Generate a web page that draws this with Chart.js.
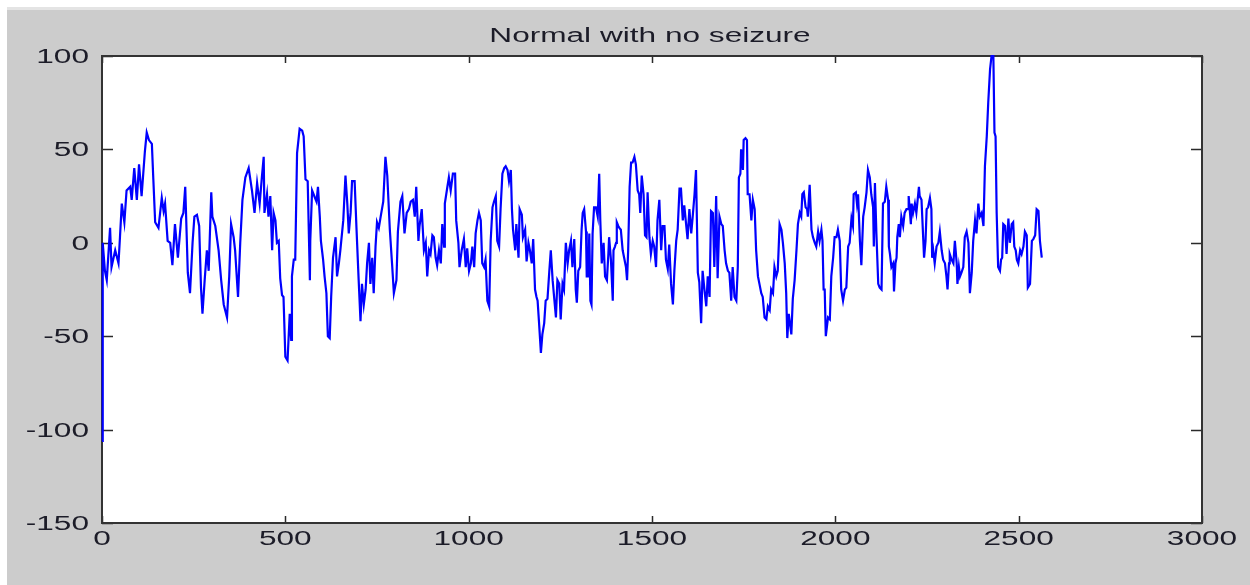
<!DOCTYPE html>
<html lang="en">
<head>
<meta charset="UTF-8">
<title>Normal with no seizure</title>
<script src="https://cdn.jsdelivr.net/npm/chart.js@4.4.1/dist/chart.umd.min.js"></script>
<style>
  body { margin: 0; background: #fff; }
  canvas { display: block; }
</style>
</head>
<body>
<canvas id="eeg" width="1250" height="585"></canvas>
<script>
// values: sample index and amplitude (turning points of the trace)
var sampleIdx = [
  0, 2, 8, 13, 22, 26, 36, 45, 49, 54, 61, 67, 77, 81, 88, 95, 101, 108, 117, 122,
  128, 136, 140, 145, 154, 163, 168, 172, 179, 186, 192, 199, 207, 216, 222, 227, 234, 240, 247, 252,
  259, 265, 270, 274, 280, 286, 291, 298, 301, 309, 318, 325, 332, 341, 347, 352, 359, 363, 371, 377,
  383, 391, 400, 409, 416,
  423, 430, 436, 441, 443, 450, 454, 459, 464, 468, 473, 477, 482, 486, 491, 495, 500, 506, 512, 516,
  518, 523, 527, 532, 539, 546, 550, 555, 561, 567, 568, 573, 577, 585, 589, 594, 597, 603, 607, 612,
  616, 621, 625, 630, 637, 641, 646, 650, 658, 664, 669, 673, 678, 682, 689, 694, 700, 705, 709, 714,
  719, 723, 728, 732, 737, 741, 746, 750, 755, 760, 767, 773, 778, 785, 791, 796, 803, 807, 814, 819,
  825, 831, 837,
  842, 848, 853, 857, 863, 866, 872, 875, 878, 883, 887, 892, 896, 901, 905, 910, 914, 919, 924, 928,
  933, 935, 942, 946, 951, 957, 963, 966, 972, 975, 981, 987, 992, 996, 1001, 1006, 1010, 1015, 1019, 1024,
  1028, 1033, 1037, 1042, 1046, 1051, 1056, 1060, 1065, 1069, 1074, 1078, 1083, 1087, 1092, 1097, 1101, 1106, 1110, 1115,
  1118, 1121, 1127, 1130, 1136, 1139, 1145, 1148, 1154, 1158, 1163, 1167, 1172, 1176, 1181, 1185, 1188, 1192, 1197, 1201,
  1206, 1210, 1215, 1220, 1224, 1229, 1233, 1238, 1242, 1247, 1251, 1256, 1260,
  1265, 1270, 1274, 1279, 1283, 1288, 1292, 1295, 1299, 1304, 1308, 1311, 1315, 1320, 1322, 1326, 1329, 1332, 1335, 1338,
  1342, 1347, 1352, 1356, 1359, 1363, 1368, 1372, 1377, 1381, 1383, 1388, 1393, 1395, 1399, 1402, 1404, 1408, 1411, 1415,
  1420, 1424, 1429, 1432, 1435, 1439, 1443, 1447, 1452, 1456, 1461, 1465, 1468, 1472, 1477, 1481, 1485, 1488, 1493, 1497,
  1502, 1506, 1511, 1515, 1520, 1525, 1529, 1534, 1538, 1543, 1547, 1552, 1557, 1561, 1566, 1570, 1575, 1579, 1584, 1588,
  1593, 1597, 1602, 1607, 1611, 1616, 1620, 1625, 1629, 1634, 1638, 1643, 1648, 1652, 1657, 1661, 1666, 1670, 1675, 1679,
  1684,
  1689, 1693, 1698, 1702, 1707, 1711, 1716, 1720, 1725, 1730, 1734, 1737, 1741, 1743, 1748, 1750, 1755, 1759, 1761, 1766,
  1771, 1775, 1780, 1784, 1789, 1793, 1798, 1802, 1807, 1812, 1816, 1821, 1825, 1830, 1834, 1839, 1843, 1848, 1853, 1857,
  1862, 1866, 1869, 1873, 1880, 1884, 1889, 1894, 1898, 1903, 1907, 1910, 1914, 1919, 1923, 1925, 1930, 1935, 1939, 1944,
  1948, 1953, 1957, 1962, 1965, 1968, 1971, 1974, 1980, 1985, 1989, 1994, 1998, 2003, 2007, 2012, 2016, 2021, 2026, 2030,
  2035, 2039, 2044, 2048, 2050, 2056, 2059, 2062, 2067, 2071, 2076, 2080, 2085, 2089, 2094, 2098, 2103, 2105, 2108,
  2112, 2117, 2121, 2126, 2130, 2135, 2139, 2144, 2146, 2149, 2153, 2158, 2160, 2164, 2167, 2169, 2173, 2176, 2180, 2185,
  2189, 2194, 2199, 2200, 2206, 2208, 2212, 2217, 2221, 2228, 2230, 2235, 2240, 2242, 2246, 2249, 2253, 2258, 2262, 2264,
  2267, 2271, 2276, 2281, 2285, 2290, 2294, 2299, 2303, 2306, 2310, 2312, 2317, 2322, 2326, 2331, 2333, 2337, 2340, 2344,
  2349, 2353, 2358, 2363, 2367, 2372, 2376, 2381, 2385, 2390, 2394, 2399, 2404, 2408, 2413, 2417, 2422, 2426, 2431, 2434,
  2437, 2440, 2444, 2449, 2452, 2455, 2458, 2463, 2467, 2472, 2476, 2481, 2485, 2488, 2492, 2495, 2499, 2504, 2508, 2513,
  2517, 2522, 2525, 2531, 2536, 2540, 2545, 2549, 2554, 2558, 2563
];
var amplitude = [
  -106, 0, -15, -20, 8, -13, -4, -11, 3, 21, 11, 28, 30, 23, 40, 23, 42, 25, 49, 59,
  55, 53, 34, 11, 8, 24, 17, 21, 1, 0, -12, 10, -8, 13, 16, 30, -16, -27, 0, 14,
  15, 9, -24, -38, -20, -4, -15, 27, 14, 9, -4, -20, -33, -40, -18, 10, 3, -4, -29, 0,
  23, 35, 40, 28, 16,
  32, 21, 35, 46, 16, 26, 14, 25, -4, 16, 12, 0, 1, -19, -28, -29, -61, -63, -38, -52,
  -18, -9, -9, 48, 61, 60, 57, 34, 33, -20, 1, 28, 26, 22, 30, 14, 1, -9, -18, -27,
  -50, -51, -29, -8, 3, -18, -11, -4, 12, 36, 21, 5, 16, 33, 33, 8, -20, -42, -22, -33,
  -25, -11, 0, -22, -8, -27, -2, 11, 8, 14, 22, 46, 36, 7, -11, -27, -20, 6, 22, 25,
  5, 16, 18,
  22, 23, 14, 30, 1, 9, 18, 7, -4, 0, -18, -4, -6, 4, 3, -8, -12, -4, -11, 10,
  -2, 21, 30, 35, 28, 37, 37, 12, 0, -13, -4, 2, -13, -3, -15, -11, -2, -13, 5, 12,
  16, 12, -11, -13, -9, -31, -34, 1, 19, 22, 25, 1, -2, 18, 37, 40, 41, 39, 33, 39,
  18, 7, -4, 10, -8, 18, 15, 3, 7, -10, 0, -4, -11, 2, -25, -29, -31, -43, -59, -49,
  -43, -31, -30, -15, -4, -20, -29, -40, -20, -22, -41, -22, -25,
  0, -11, -4, 1, -13, 2, -25, -32, -15, -13, 7, 16, 18, 6, -18, -18, 5, -31, -33, 5,
  19, 19, 14, 37, 12, -11, 0, -18, -20, -6, 3, -9, -31, -4, -2, 0, 11, 9, 8, 7,
  -4, -8, -13, -20, -4, 30, 43, 43, 46, 42, 28, 26, 16, 36, 26, 4, 3, 27, 3, -6,
  1, -2, -13, 12, 23, -4, 9, 9, -9, -14, -1, -22, -33, -15, 1, 7, 29, 29, 12, 20,
  10, 2, 18, 5, 14, 26, 39, -16, -21, -43, -15, -25, -34, -18, -29, 17, 16, -13, 25, -19,
  14,
  10, 9, -4, -11, -15, -16, -31, -13, -29, -31, -13, 35, 37, 50, 39, 55, 56, 55, 26, 26,
  12, 23, 18, -4, -18, -22, -27, -29, -40, -41, -34, -36, -25, -27, -13, -18, -15, 10, 7, 0,
  -11, -27, -51, -38, -49, -30, -20, -4, 10, 16, 14, 26, 27, 19, 18, 14, 31, 7, 3, 0,
  -2, 6, 1, 7, 1, -25, -25, -50, -40, -41, -18, -8, 3, 3, 7, 1, -25, -31, -25, -24,
  -2, 0, 13, 9, 26, 27, 21, 26, 1, -12, 14, 19, 27, 39, 35, 26, 19, -2, 32,
  5, -22, -24, -25, 21, 22, 30, 23, -2, -6, -13, -11, -26, -11, -8, 3, 10, 3, 14, 9,
  16, 18, 18, 25, 10, 21, 16, 21, 16, 30, 25, 23, 1, -8, 1, 18, 19, 24, 18, -8,
  -4, -11, -2, 0, 6, -4, -9, -11, -18, -25, -11, -6, -9, -11, 1, -11, -22, -13, -18, -16,
  -13, 3, 6, 0, -27, -16, 1, 12, 5, 21, 14, 16, 9, 41, 57, 75, 93, 100, 100, 59,
  57, 16, -13, -15, -9, -8, 10, 9, -6, 13, 0, 10, 11, -2, -4, -9, -11, -4, -6, -2,
  6, 4, -24, -22, 1, 2, 4, 18, 17, 1, -8
];
var xTicks = [0, 500, 1000, 1500, 2000, 2500, 3000];
var yTicks = [-150, -100, -50, 0, 50, 100];
var chartTitle = 'Normal with no seizure';

var points = [];
for (var i = 0; i < sampleIdx.length; i++) {
  points.push({ x: sampleIdx[i], y: amplitude[i] });
}

var FONT = "20px 'Liberation Sans', Arial, sans-serif";
var TEXT = '#1c1c28';
var SX = 1.58; // the original figure is stretched sideways, text too

function wideText(c, txt, x, y, align) {
  c.save();
  c.translate(x, y);
  c.scale(SX, 1);
  c.textAlign = align;
  c.textBaseline = 'alphabetic';
  c.fillText(txt, 0, 0);
  c.restore();
}

// matlab-ish figure: grey frame, white axes box, ticks pointing inward
var figureLook = {
  id: 'figureLook',
  beforeDraw: function(chart) {
    var c = chart.ctx, a = chart.chartArea;
    c.save();
    c.fillStyle = '#ffffff';
    c.fillRect(0, 0, chart.width, chart.height);
    c.fillStyle = '#e4e4e4';
    c.fillRect(7, 7, chart.width - 7, 3);
    c.fillStyle = '#cccccc';
    c.fillRect(7, 10, chart.width - 7, chart.height - 10);
    c.fillStyle = '#ffffff';
    c.fillRect(a.left, a.top, a.right - a.left, a.bottom - a.top);
    c.restore();
  },
  beforeDatasetsDraw: function(chart) {
    var c = chart.ctx, a = chart.chartArea;
    var xs = chart.scales.x, ys = chart.scales.y;
    c.save();
    c.strokeStyle = '#2a2a2a';
    c.lineWidth = 1.5;
    c.beginPath();
    xTicks.forEach(function(v) {
      var px = Math.round(xs.getPixelForValue(v)) + 0.5;
      c.moveTo(px, a.bottom); c.lineTo(px, a.bottom - 7);
      c.moveTo(px, a.top); c.lineTo(px, a.top + 7);
    });
    yTicks.forEach(function(v) {
      var py = Math.round(ys.getPixelForValue(v)) + 0.5;
      c.moveTo(a.left, py); c.lineTo(a.left + 11, py);
      c.moveTo(a.right, py); c.lineTo(a.right - 11, py);
    });
    c.stroke();
    c.lineWidth = 2;
    c.strokeStyle = '#333333';
    c.strokeRect(a.left, a.top, a.right - a.left, a.bottom - a.top);

    // labels and title
    c.font = FONT;
    c.fillStyle = TEXT;
    xTicks.forEach(function(v) {
      wideText(c, String(v), xs.getPixelForValue(v), a.bottom + 22, 'center');
    });
    yTicks.forEach(function(v) {
      wideText(c, String(v), a.left - 13, ys.getPixelForValue(v) + 7, 'right');
    });
    wideText(c, chartTitle, (a.left + a.right) / 2 - 2, 42, 'center');
    c.restore();
  }
};

var chart = new Chart(document.getElementById('eeg'), {
  type: 'line',
  data: {
    datasets: [{
      data: points,
      borderColor: '#0000ff',
      borderWidth: 2.2,
      pointRadius: 0,
      tension: 0,
      fill: false,
      clip: false
    }]
  },
  options: {
    responsive: false,
    devicePixelRatio: 1,
    animation: false,
    layout: { padding: { left: 0, right: 48, top: 56, bottom: 0 } },
    plugins: {
      legend: { display: false },
      tooltip: { enabled: false },
      title: { display: false }
    },
    scales: {
      x: {
        type: 'linear',
        min: 0,
        max: 3000,
        afterBuildTicks: function(s) { s.ticks = xTicks.map(function(v) { return { value: v }; }); },
        afterFit: function(s) { s.height = 62; },
        grid: { display: false },
        border: { display: false },
        ticks: { display: false }
      },
      y: {
        type: 'linear',
        min: -150,
        max: 100,
        afterBuildTicks: function(s) { s.ticks = yTicks.map(function(v) { return { value: v }; }); },
        afterFit: function(s) { s.width = 102; },
        grid: { display: false },
        border: { display: false },
        ticks: { display: false }
      }
    }
  },
  plugins: [figureLook]
});
</script>
</body>
</html>
